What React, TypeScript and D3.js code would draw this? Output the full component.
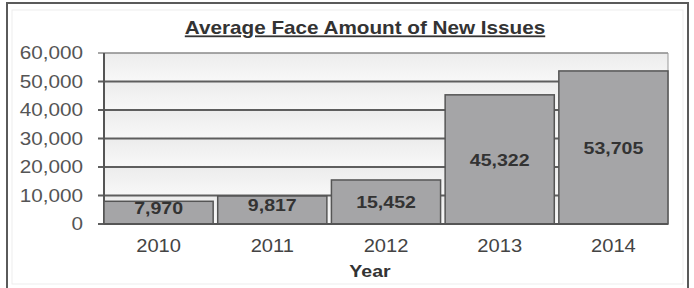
import React from "react";
import * as d3 from "d3";

const years = ["2010", "2011", "2012", "2013", "2014"];
const values = [7970, 9817, 15452, 45322, 53705];
const yTicks = [0, 10000, 20000, 30000, 40000, 50000, 60000];
const title = "Average Face Amount of New Issues";
const xTitle = "Year";

const SX = 1.15;

function T(props: { x: number; y: number; children: React.ReactNode; anchor?: string; size: number; bold?: boolean; fill: string; underline?: boolean }) {
  return (
    <text
      transform={`translate(${props.x},${props.y}) scale(${SX},1)`}
      dy="0.36em"
      textAnchor={props.anchor || "middle"}
      fontSize={props.size}
      fontWeight={props.bold ? "bold" : "normal"}
      fill={props.fill}
      textDecoration={props.underline ? "underline" : undefined}
    >
      {props.children}
    </text>
  );
}

export default function App() {
  const W = 694, H = 288;
  const left = 104, right = 668, top = 53, bottom = 224;
  const x = d3.scaleBand<string>().domain(years).range([left, right]).paddingInner(0.04).paddingOuter(0.0);
  const y = d3.scaleLinear().domain([0, 60000]).range([bottom, top]);
  const fmt = d3.format(",");
  const font = "'Liberation Sans', Arial, sans-serif";
  return (
    <svg width={W} height={H} style={{ position: "absolute", left: 0, top: 0, background: "#fff" }} fontFamily={font}>
      <defs>
        <linearGradient id="band" x1="0" y1="0" x2="0" y2="1">
          <stop offset="0" stopColor="#ececec" />
          <stop offset="1" stopColor="#f8f8f8" />
        </linearGradient>
      </defs>
      <rect x={7} y={3} width={681} height={295} fill="#fff" stroke="#5a5a5a" strokeWidth={2} />
      <rect x={12} y={10} width={671} height={274} fill="#fff" stroke="#ededed" strokeWidth={1} />
      <T x={365} y={28} size={18} bold fill="#333" underline>{title}</T>
      {yTicks.slice(1).map((t) => (
        <rect key={"band" + t} x={left} y={y(t)} width={right - left} height={y(t - 10000) - y(t)} fill="url(#band)" />
      ))}
      {yTicks.map((t) => (
        <g key={t}>
          <line x1={98} x2={right} y1={y(t)} y2={y(t)} stroke={t === 60000 ? "#8a8a8a" : "#5e5e5e"} strokeWidth={t === 60000 ? 1.5 : 2} />
          <T x={83} y={y(t)} anchor="end" size={18} fill="#555">{fmt(t)}</T>
        </g>
      ))}
      <line x1={left} x2={left} y1={top} y2={bottom} stroke="#555" strokeWidth={2} />
      <line x1={right} x2={right} y1={top} y2={bottom} stroke="#999" strokeWidth={1} />
      {years.map((yr, i) => {
        const bx = x(yr)!;
        const bw = x.bandwidth();
        const v = values[i];
        return (
          <g key={yr}>
            <rect x={bx} y={y(v)} width={bw} height={bottom - y(v)} fill="#a5a5a7" stroke="#555" strokeWidth={1.5} />
            <T x={bx + bw / 2} y={(y(v) + bottom) / 2 - (v < 12000 ? 5 : 0)} size={17} bold fill="#333">{fmt(v)}</T>
            <T x={bx + bw / 2} y={246} size={17.5} fill="#444">{yr}</T>
          </g>
        );
      })}
      <line x1={left} x2={right} y1={bottom} y2={bottom} stroke="#555" strokeWidth={2} />
      <T x={370} y={271} size={17} bold fill="#333">{xTitle}</T>
    </svg>
  );
}
